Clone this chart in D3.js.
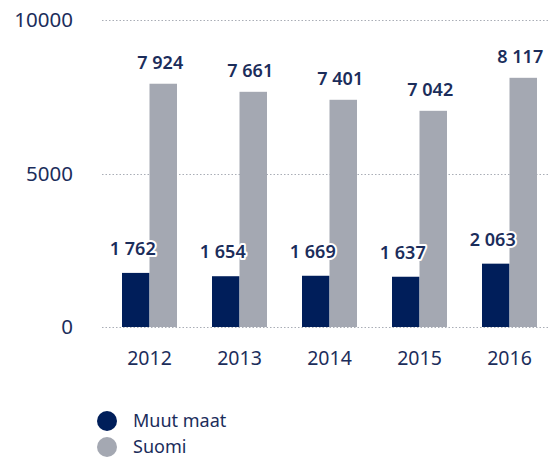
<!DOCTYPE html>
<html>
<head>
<meta charset="utf-8">
<script src="https://cdn.jsdelivr.net/npm/d3@7"></script>
<style>
  body { margin: 0; background: #fff; }
  svg text { font-family: "Noto Sans", "Open Sans", sans-serif; fill: #1b2d5b; }
  .grid line { stroke: #a9adb6; stroke-width: 1.2; stroke-dasharray: 1.5 2; }
  .value-label { font-weight: 600; font-size: 18px; stroke: #fff; stroke-width: 4px; paint-order: stroke; stroke-linejoin: round; }
</style>
</head>
<body>
<div id="chart"></div>
<script>
// data
var years = ["2012", "2013", "2014", "2015", "2016"];
var seriesNames = ["Muut maat", "Suomi"];
var muutMaat = [1762, 1654, 1669, 1637, 2063];
var suomi = [7924, 7661, 7401, 7042, 8117];
var yTicks = [0, 5000, 10000];
var colors = ["#001e5a", "#a4a8b2"];

var width = 550, height = 459;

var svg = d3.select("#chart").append("svg")
    .attr("width", width)
    .attr("height", height);

// scales
var x = d3.scaleBand().domain(years).range([104.5, 554.5]);
var groupW = 55;
var x1 = d3.scaleBand().domain(seriesNames).range([0, groupW]);
var y = d3.scaleLinear().domain([0, 10000]).range([327, 20]);

var fmt = function(v) { return d3.format(",")(v).replace(",", " "); };

// gridlines
svg.append("g")
    .attr("class", "grid")
    .selectAll("line")
    .data(yTicks)
    .enter().append("line")
    .attr("x1", 102)
    .attr("x2", 550)
    .attr("y1", function(d) { return Math.round(y(d)) + 0.5; })
    .attr("y2", function(d) { return Math.round(y(d)) + 0.5; });

// y tick labels
svg.append("g")
    .selectAll("text")
    .data(yTicks)
    .enter().append("text")
    .attr("x", 73)
    .attr("y", function(d) { return y(d); })
    .attr("dy", "0.35em")
    .attr("text-anchor", "end")
    .style("font-size", "20.5px")
    .text(function(d) { return d; });

// x labels
svg.append("g")
    .selectAll("text")
    .data(years)
    .enter().append("text")
    .attr("x", function(d) { return x(d) + x.bandwidth() / 2; })
    .attr("y", 365)
    .attr("text-anchor", "middle")
    .style("font-size", "19.5px")
    .text(function(d) { return d; });

// bars
var rows = years.map(function(yr, i) {
    return { year: yr, values: [
        { key: seriesNames[0], value: muutMaat[i], c: 0 },
        { key: seriesNames[1], value: suomi[i], c: 1 }
    ] };
});

var groups = svg.selectAll(".year-group")
    .data(rows)
    .enter().append("g")
    .attr("class", "year-group")
    .attr("transform", function(d) {
        return "translate(" + (x(d.year) + (x.bandwidth() - groupW) / 2) + ",0)";
    });

groups.selectAll("rect")
    .data(function(d) { return d.values; })
    .enter().append("rect")
    .attr("x", function(d) { return x1(d.key); })
    .attr("width", x1.bandwidth())
    .attr("y", function(d) { return y(d.value); })
    .attr("height", function(d) { return y(0) - y(d.value); })
    .attr("fill", function(d) { return colors[d.c]; });

groups.selectAll(".value-label")
    .data(function(d) { return d.values; })
    .enter().append("text")
    .attr("class", "value-label")
    .attr("x", function(d) { return x1(d.key) + x1.bandwidth() / 2 - 3; })
    .attr("y", function(d) { return y(d.value) - (d.c === 0 ? 18 : 15); })
    .attr("text-anchor", "middle")
    .text(function(d) { return fmt(d.value); });

// legend
var legend = svg.append("g")
    .selectAll("g")
    .data(seriesNames)
    .enter().append("g")
    .attr("transform", function(d, i) { return "translate(107," + (421 + i * 26) + ")"; });

legend.append("circle")
    .attr("r", 10)
    .attr("fill", function(d, i) { return colors[i]; });

legend.append("text")
    .attr("x", 26)
    .attr("dy", "0.35em")
    .style("font-size", "18px")
    .text(function(d) { return d; });
</script>
</body>
</html>
